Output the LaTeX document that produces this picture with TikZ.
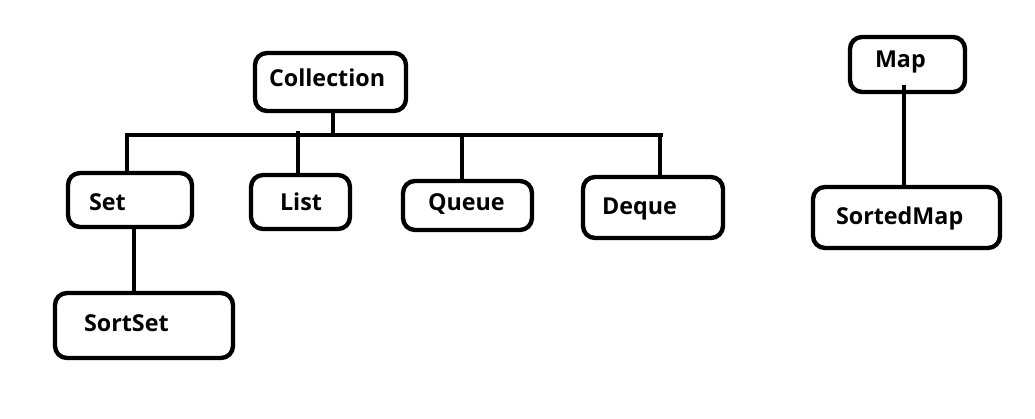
\documentclass[tikz,border=0pt]{standalone}
\usepackage{fontspec}
\setmainfont{Open Sans}
\begin{document}
\begin{tikzpicture}[x=1pt,y=-1pt,
  box/.style={draw=black, line width=4.4pt, rounded corners=12pt, fill=none,
    anchor=north west, inner sep=0pt, outer sep=0pt},
  lbl/.style={anchor=base west, inner sep=0pt, outer sep=0pt,
    font=\fontsize{23.3}{27}\selectfont\bfseries},
  wire/.style={line width=4.4pt}]
\useasboundingbox[fill=white] (0,0) rectangle (1035,419);

% interface boxes
\node[box, minimum width=151pt, minimum height=58pt] (coll) at (255,53) {};
\node[box, minimum width=124pt, minimum height=54pt] (set) at (68,173) {};
\node[box, minimum width=99pt,  minimum height=54pt] (list) at (251,175) {};
\node[box, minimum width=129pt, minimum height=49pt] (queue) at (403,181) {};
\node[box, minimum width=140pt, minimum height=61pt] (deque) at (583,177) {};
\node[box, minimum width=178pt, minimum height=65pt] (sset) at (55,293) {};
\node[box, minimum width=115pt, minimum height=55pt] (map) at (850,37) {};
\node[box, minimum width=187pt, minimum height=61pt] (smap) at (813,187) {};

% box captions
\node[lbl] (coll-t) at (269,87) {Collection};
\node[lbl] (set-t) at (89,211) {Set};
\node[lbl] (list-t) at (280,211) {List};
\node[lbl] (queue-t) at (428,211) {Queue};
\node[lbl] (deque-t) at (602,215) {Deque};
\node[lbl] (sset-t) at (84,331) {SortSet};
\node[lbl] (map-t) at (875,68) {Map};
\node[lbl] (smap-t) at (836,225) {SortedMap};

% bus below Collection
\coordinate (busL) at (125,135);
\coordinate (busR) at (663,135);
\coordinate (bc) at (333,135);
\coordinate (b1) at (127,135);
\coordinate (b2) at (298,131);
\coordinate (b3) at (462,135);
\coordinate (b4) at (660,135);
\coordinate (sl) at (134,0);
\coordinate (ml) at (904,0);

\draw[wire] (busL) -- (busR);
\draw[wire] (bc |- coll.south) -- (bc);
\draw[wire] (b1) -- (b1 |- set.north);
\draw[wire] (b2) -- (b2 |- list.north);
\draw[wire] (b3) -- (b3 |- queue.north);
\draw[wire] (b4) -- (b4 |- deque.north);
\draw[wire] (sl |- set.south) -- (sl |- sset.north);
\draw[wire] ([yshift=7pt]ml |- map.south) -- (ml |- smap.north);
\end{tikzpicture}
\end{document}
